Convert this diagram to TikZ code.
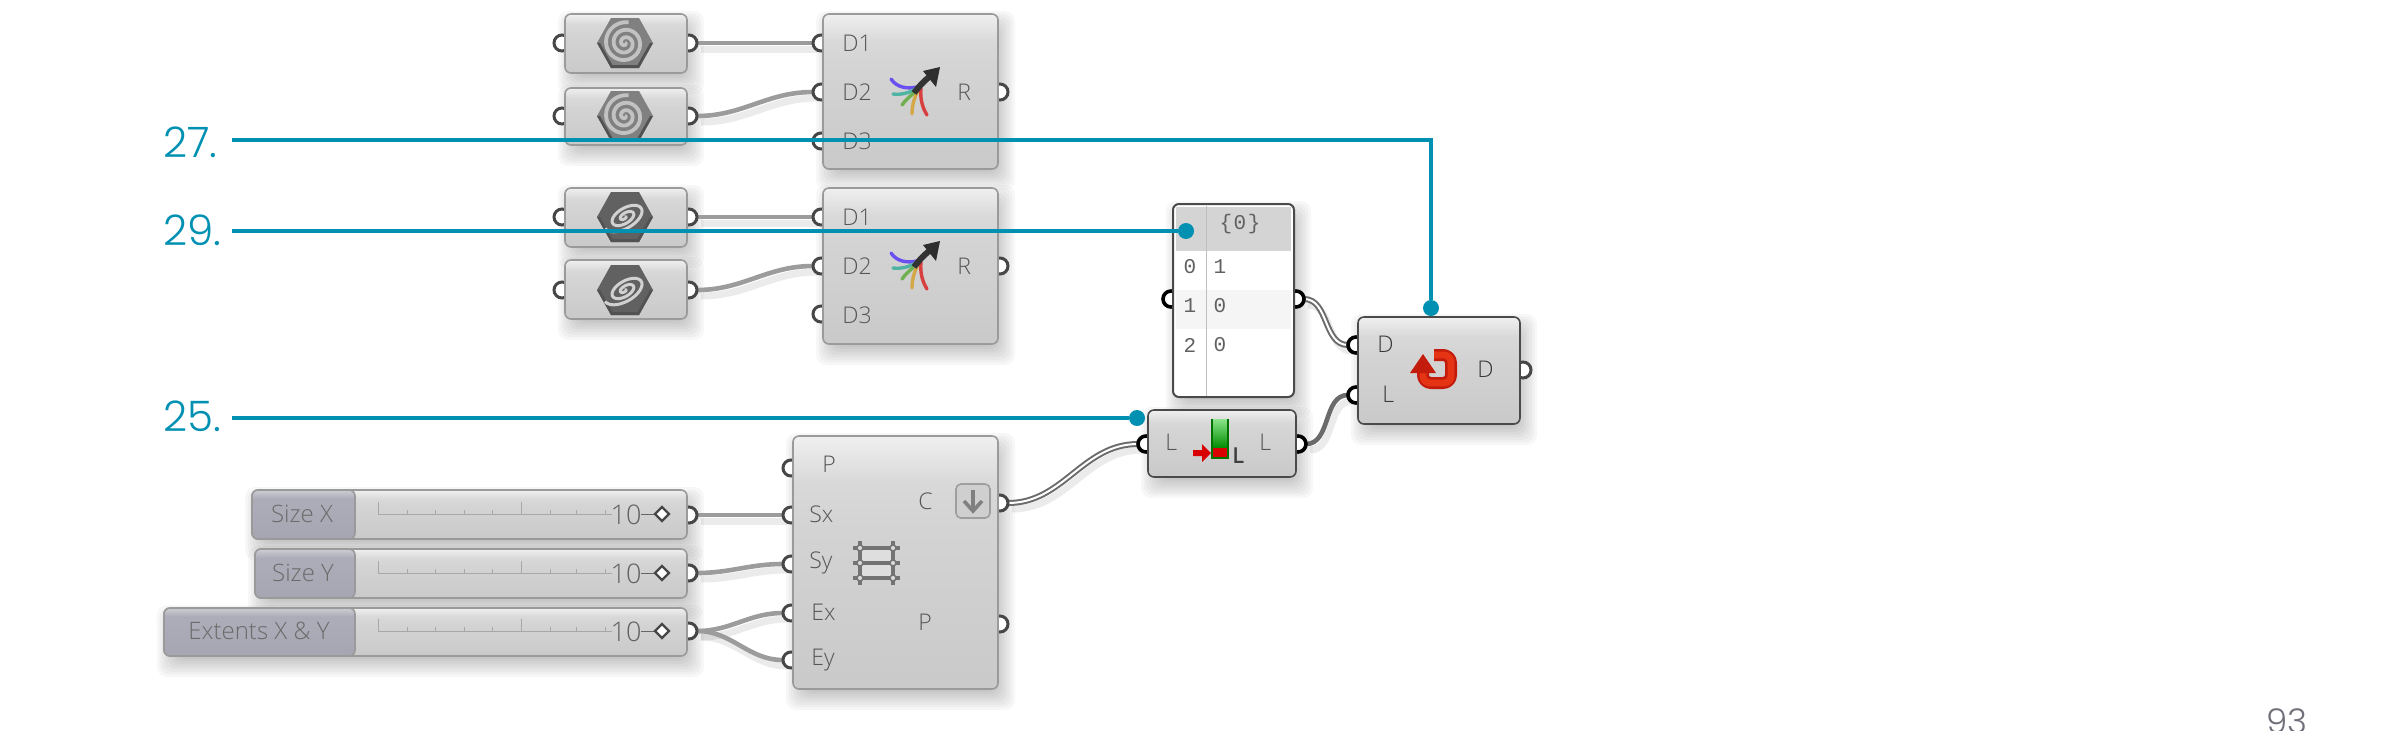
\documentclass[tikz,border=0pt]{standalone}
\usepackage{fontspec}
\setmainfont{Open Sans}[UprightFont=* Light]
\newfontfamily\numf{Poppins}[UprightFont=* Light]
\newfontfamily\monof{Liberation Mono}
\definecolor{anno}{HTML}{0090B2}
\definecolor{pagegray}{HTML}{70707A}
\definecolor{txt}{HTML}{555555}
\definecolor{edge}{HTML}{9A9A9A}
\definecolor{edgedark}{HTML}{4A4A4A}
\definecolor{wirec}{HTML}{9C9C9C}
\definecolor{labA}{HTML}{A6A6B2}
\definecolor{labB}{HTML}{ACACB8}
\definecolor{labC}{HTML}{CDCDD4}
\definecolor{mapV}{HTML}{6A50F0}
\definecolor{mapT}{HTML}{50B4A4}
\definecolor{mapG}{HTML}{70B050}
\definecolor{mapO}{HTML}{D4A848}
\definecolor{mapR}{HTML}{D84040}
\definecolor{revA}{HTML}{C41C0C}
\definecolor{revB}{HTML}{E43414}
\pgfdeclareverticalshading{compshade}{100bp}{color(0bp)=(black!21); color(25bp)=(black!21); color(58bp)=(black!17); color(66bp)=(black!15); color(75bp)=(black!6); color(100bp)=(black!6)}
\pgfdeclareverticalshading{labshade}{100bp}{color(0bp)=(labA); color(25bp)=(labA); color(60bp)=(labB); color(66bp)=(labB); color(75bp)=(labC); color(100bp)=(labC)}
\pgfdeclarelayer{shad}
\pgfdeclarelayer{wire}
\pgfsetlayers{shad,wire,main}
\tikzset{
  compbox/.style={rectangle,rounded corners=3pt,inner sep=0pt,outer sep=0pt,draw=edge,line width=.8pt,shading=compshade},
  darkbox/.style={compbox,draw=edgedark},
  panelbox/.style={rectangle,rounded corners=3pt,inner sep=0pt,outer sep=0pt,draw=edgedark,line width=1pt,fill=white},
  labbox/.style={rectangle,rounded corners=3pt,inner sep=0pt,outer sep=0pt,draw=edge,line width=.8pt,shading=labshade},
  port/.style={circle,draw=black!72,line width=1.5pt,fill=white,minimum size=8pt,inner sep=0pt,outer sep=0pt},
  hotport/.style={port,draw=black,line width=1.8pt},
  label/.style={font=\fontsize{11.5}{11.5}\selectfont,text=txt,inner sep=0pt,anchor=west},
  darklabel/.style={label,text=black!78},
  slidelabel/.style={font=\fontsize{12}{12}\selectfont,text=black!58,inner sep=0pt},
  mono/.style={font=\monof\fontsize{10.5}{10.5}\selectfont,text=black!62,inner sep=0pt},
  wire/.style={draw=wirec,line width=2.3pt,line cap=round,preaction={draw=black,opacity=.08,line width=3.5pt,transform canvas={xshift=2pt,yshift=-3pt}}},
  listwire/.style={draw=black!58,line width=1pt,double=white,double distance=1pt,preaction={draw=black,opacity=.08,line width=3.5pt,transform canvas={xshift=2pt,yshift=-3pt}}},
  note/.style={draw=anno,line width=2pt},
  notedot/.style={circle,fill=anno,minimum size=8pt,inner sep=0pt,outer sep=0pt},
  notetext/.style={font=\numf\fontsize{21}{21}\selectfont,text=anno,inner sep=0pt,anchor=base west},
}
\newcommand\softshadow[4]{%
  \begin{pgfonlayer}{shad}
  \foreach \k in {0,...,7}{
    \pgfmathsetmacro\e{12-2.6*\k}
    \fill[black,opacity=.032,rounded corners=5pt] ({#1+5-\e},{#2+9-\e}) rectangle ({#3+5+\e},{#4+9+\e});
  }
  \end{pgfonlayer}}
\newcommand\compnode[6]{%
  \softshadow{#3}{#4}{#5}{#6}
  \node[#2,minimum width={(#5-#3)*0.5pt},minimum height={(#6-#4)*0.5pt}] (#1) at ({(#3+#5)/2},{(#4+#6)/2}) {};}
\newcommand\hexicon[3]{% x y kind: 0 round, 1 tilted
  \begin{scope}[shift={(#1,#2)}]
    \ifnum#3=0 \def\hc{black!50}\def\hs{black!24}\else \def\hc{black!62}\def\hs{black!18}\fi
    \fill[\hc] (-28,0)--(-14,-25)--(14,-25)--(28,0)--(14,25)--(-14,25)--cycle;
    \fill[black!68] (-28,0)--(-14,25)--(14,25)--(28,0)--(25,0)--(12.5,22)--(-12.5,22)--(-25,0)--cycle;
    \ifnum#3=0
      \draw[\hs,line width=1.9pt] plot[smooth,domain=0:1000,samples=70] ({\x/1000*21*cos(\x)},{\x/1000*21*sin(\x)});
    \else
      \draw[\hs,line width=1.5pt] plot[smooth,domain=0:900,samples=70] ({\x/900*23*cos(\x)*cos(30)+\x/900*12*sin(\x)*sin(30)},{-\x/900*23*cos(\x)*sin(30)+\x/900*12*sin(\x)*cos(30)});
    \fi
  \end{scope}}
\newcommand\mapicon[1]{%
  \begin{scope}[shift={(0,#1)},line cap=round]
    \draw[mapV,line width=1.7pt] (891,78) .. controls (897,87) and (908,88) .. (917,86);
    \draw[mapT,line width=1.7pt] (893,93) .. controls (901,94) and (910,92) .. (917,87);
    \draw[mapG,line width=1.7pt] (902,104) .. controls (906,98) and (912,94) .. (918,88);
    \draw[mapO,line width=1.7pt] (912,113) .. controls (912,103) and (915,95) .. (919,88);
    \draw[mapR,line width=1.7pt] (927,114) .. controls (922,106) and (920,97) .. (921,87);
    \draw[black!80,line width=3pt,line cap=butt] (914,92) .. controls (920,84) and (926,78) .. (932,74);
    \fill[black!82] (940,66) -- (923,70) -- (936,86) -- cycle;
  \end{scope}}
\begin{document}
\begin{tikzpicture}[x=0.5pt,y=-0.5pt]
\useasboundingbox (0,0) rectangle (2400,730);
\clip (0,0) rectangle (2400,730);
\begin{scope}[shift={(0,1)}]
% ports
\foreach \nm/\px/\py in {ha/562/42,hb/562/115,hc/562/216,hd/562/289,m1a/821/42,m1b/821/91,m1c/821/140,m2a/821/216,m2b/821/265,m2c/821/313,gp/791/467,gsx/791/514,gsy/791/563,gex/791/612,gey/791/659}
  \node[port] (\nm) at (\px,\py) {};
\foreach \nm/\px/\py in {hao/689/42,hbo/689/115,hco/689/216,hdo/689/289,m1r/1000/91,m2r/1000/265,gc/1000/502,gpo/1000/623,s1/689/514,s2/689/572,s3/689/630,ro/1523/369}
  \node[port] (\nm) at (\px,\py) {};
\foreach \nm/\px/\py in {pin/1171/298,pout/1296/298,rd/1356/344,rl/1356/394,lin/1146/443,lout/1298/443}
  \node[hotport] (\nm) at (\px,\py) {};
% boxes
\compnode{hexa}{compbox}{565}{13}{687}{72}
\compnode{hexb}{compbox}{565}{87}{687}{144}
\compnode{hexc}{compbox}{565}{187}{687}{246}
\compnode{hexd}{compbox}{565}{259}{687}{318}
\compnode{mapa}{compbox}{823}{13}{998}{168}
\compnode{mapb}{compbox}{823}{187}{998}{343}
\compnode{gridbox}{compbox}{793}{435}{998}{688}
\compnode{panel}{panelbox}{1173}{203}{1294}{396}
\compnode{rev}{darkbox}{1358}{316}{1520}{423}
\compnode{len}{darkbox}{1148}{409}{1296}{476}
% sliders
\compnode{sa}{compbox}{252}{489}{687}{538}
\compnode{sb}{compbox}{255}{548}{687}{597}
\compnode{sc}{compbox}{164}{607}{687}{655}
\node[labbox,minimum width={103*0.5pt},minimum height={49*0.5pt}] (sal) at (303.5,513.5) {};
\node[labbox,minimum width={100*0.5pt},minimum height={49*0.5pt}] (sbl) at (305,572.5) {};
\node[labbox,minimum width={191*0.5pt},minimum height={48*0.5pt}] (scl) at (259.5,631) {};
\foreach \yy/\nm in {513/ta,572/tb,630/tc}{
  \draw[black!34,line width=.5pt] (378,\yy) -- (612,\yy);
  \foreach \tx in {407,435,464,492,550,576,605} \draw[black!34,line width=.5pt] (\tx,\yy) -- (\tx,{\yy-4});
  \foreach \tx in {378,521} \draw[black!34,line width=.5pt] (\tx,\yy) -- (\tx,{\yy-12});
  \draw[black!60,line width=.5pt] (641,\yy) -- (656,\yy);
  \draw[black!72,fill=white,line width=1.2pt] (662,{\yy-7}) -- (669,\yy) -- (662,{\yy+7}) -- (655,\yy) -- cycle;
  \node[font=\fontsize{13.5}{13.5}\selectfont,text=black!62,inner sep=0pt] (\nm) at (626,{\yy+.5}) {10};
}
\node[slidelabel] (sat) at (302,513) {Size X};
\node[slidelabel] (sbt) at (303,572) {Size Y};
\node[slidelabel] (sct) at (259,630) {Extents X \& Y};
% wires
\begin{pgfonlayer}{wire}
  \draw[wire] (hao) -- (m1a);
  \draw[wire] (hbo) to[out=0,in=180] (m1b);
  \draw[wire] (hco) -- (m2a);
  \draw[wire] (hdo) to[out=0,in=180] (m2b);
  \draw[wire] (s1) -- (gsx);
  \draw[wire] (s2) to[out=0,in=180] (gsy);
  \draw[wire] (s3) to[out=0,in=180] (gex);
  \draw[wire] (s3) to[out=0,in=180] (gey);
  \draw[listwire] (pout) to[out=0,in=180] (rd);
  \draw[listwire] (gc) to[out=0,in=180] (lin);
  \draw[wire,draw=black!58] (lout) to[out=0,in=180] (rl);
\end{pgfonlayer}
% hex icons
\hexicon{625}{42}{0}
\hexicon{625}{115}{0}
\hexicon{625}{216}{1}
\hexicon{625}{289}{1}
% mapper labels and icons
\foreach \oy/\ma/\mb/\mc/\mr in {0/la/lb/lc/lr,174/lla/llb/llc/llr}{
  \node[label] (\ma) at (842,{42+\oy}) {D1};
  \node[label] (\mb) at (842,{91+\oy}) {D2};
  \node[label] (\mc) at (842,{140+\oy}) {D3};
  \node[label] (\mr) at (957,{91+\oy}) {R};
}
\mapicon{0}
\mapicon{174}
% grid
\node[label] (tp) at (822,463) {P};
\node[label] (tsx) at (809,513) {Sx};
\node[label] (tsy) at (809,562) {Sy};
\node[label] (tex) at (811,611) {Ex};
\node[label] (tey) at (811,659) {Ey};
\node[label] (tc) at (918,500) {C};
\node[label] (tpo) at (918,621) {P};
\fill[black!13] (860,547) rectangle (893,577);
\draw[black!55,line width=1.6pt] (860,540) -- (860,584) (893,540) -- (893,584) (853,547) -- (900,547) (853,562) -- (900,562) (853,577) -- (900,577);
\foreach \gx in {860,893} \foreach \gy in {547,562,577} \draw[black!55,fill=black!15,line width=.7pt] (\gx,\gy) circle[radius=3];
\draw[black!38,fill=black!19,rounded corners=2.5pt,line width=.8pt] (956,483) rectangle (990,517);
\draw[black!50,line width=1.8pt] (973,489) -- (973,509);
\draw[black!50,line width=1.8pt] (964,500) -- (973,510) -- (982,500);
% panel
\fill[black!17] (1176,206) rectangle (1291,250);
\fill[black!4] (1176,289) rectangle (1291,328);
\draw[black!25,line width=.5pt] (1206,205) -- (1206,395);
\node[mono] (hd) at (1240,223) {\{\kern.8pt 0\kern.8pt\}};
\node[mono] (i0) at (1190,266) {0};
\node[mono] (i1) at (1190,305) {1};
\node[mono] (i2) at (1190,344) {2};
\node[mono] (v0) at (1220,266) {1};
\node[mono] (v1) at (1220,305) {0};
\node[mono] (v2) at (1220,344) {0};
% reverse
\node[darklabel] (rdt) at (1377,343) {D};
\node[darklabel] (rlt) at (1382,393) {L};
\node[darklabel] (rot) at (1477,368) {D};
\begin{scope}[line join=round]
  \draw[revA,line width=6pt,rounded corners=4pt] (1423,368) -- (1423,382) -- (1451,382) -- (1451,354) -- (1434,354);
  \draw[revB,line width=3.4pt,rounded corners=3.5pt] (1423,368) -- (1423,382) -- (1451,382) -- (1451,354) -- (1434,354);
  \fill[revA] (1410,372) -- (1423,353) -- (1436,372) -- cycle;
\end{scope}
% list length
\node[label] (lit) at (1165,441) {L};
\node[label] (lot) at (1259,441) {L};
\shade[top color=green!40!white!90!black,bottom color=green!55!black] (1212,418) rectangle (1228,447);
\fill[red!85!black] (1212,447) rectangle (1228,457);
\draw[green!45!black,line width=.6pt] (1212,418) -- (1212,457) -- (1228,457) -- (1228,418);
\fill[red!85!black] (1193,449) -- (1202,449) -- (1202,443) -- (1211,452) -- (1202,461) -- (1202,455) -- (1193,455) -- cycle;
\node[label,font=\bfseries\fontsize{11}{11}\selectfont,text=black!75] (lic) at (1232,455) {L};
% annotations
\node[notedot] (d27) at (1431,307) {};
\node[notedot] (d29) at (1186,230) {};
\node[notedot] (d25) at (1137,417) {};
\coordinate (s27) at (232,139);
\coordinate (s29) at (232,230);
\coordinate (s25) at (232,417);
\draw[note] (s27) -| (d27);
\draw[note] (s29) -- (d29);
\draw[note] (s25) -- (d25);
\node[notetext] (n27) at (163,156) {27.};
\node[notetext] (n29) at (163,244) {29.};
\node[notetext] (n25) at (163,430) {25.};
\node[font=\numf\fontsize{17}{17}\selectfont,text=pagegray,inner sep=0pt,anchor=base west] (pg) at (2266,732) {93};
\end{scope}
\end{tikzpicture}
\end{document}
